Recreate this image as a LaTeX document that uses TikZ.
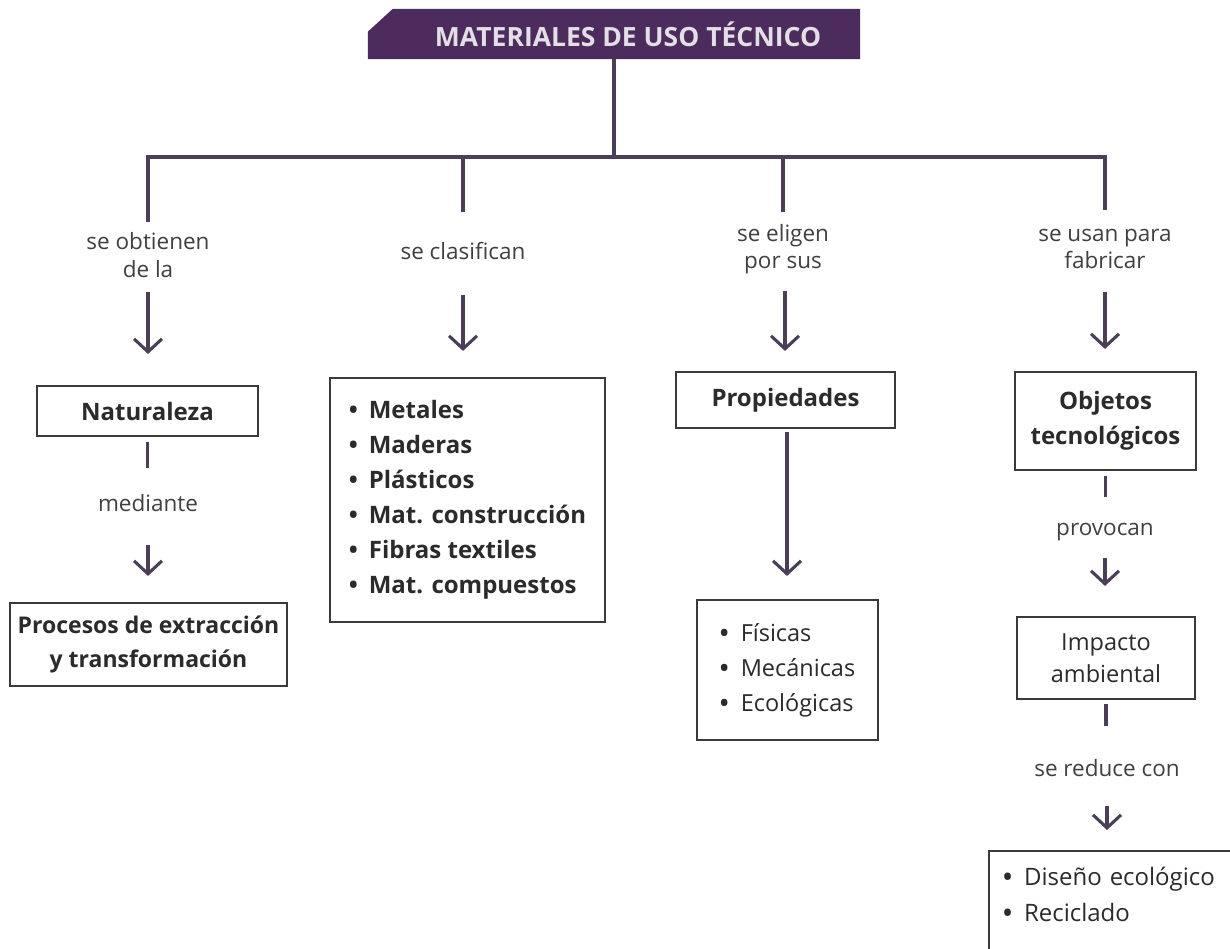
\documentclass[tikz,border=0pt]{standalone}
\usepackage{fontspec}
\setmainfont{Open Sans}
\usetikzlibrary{arrows.meta,backgrounds}
\definecolor{banner}{HTML}{4B2C5C}
\definecolor{connc}{HTML}{4A3F57}
\definecolor{boxc}{HTML}{3A3A3A}
\definecolor{txtc}{HTML}{2B2B2B}
\definecolor{lblc}{HTML}{404040}
\definecolor{titletxt}{HTML}{E4DEE6}
\newcommand{\itm}{\makebox[20pt][l]{\textbf{\textbullet}}}
\newcommand{\itmr}{\makebox[21pt][l]{\textbf{\textbullet}}}
\begin{document}
\begin{tikzpicture}[x=1pt,y=-1pt,
  conn/.style={draw=connc, line width=3.1pt},
  arr/.style={conn, -{Straight Barb[length=13pt,width=28pt]}},
  box/.style={draw=boxc, line width=2.1pt, fill=white, text=txtc, inner sep=0pt, align=center},
  bfont/.style={font=\fontsize{24}{35}\selectfont\bfseries},
  rfont/.style={font=\fontsize{23.5}{35}\selectfont},
  lbl/.style={text=lblc, font=\fontsize{22.5}{27.5}\selectfont, align=center, inner sep=0pt},
  titlebox/.style={inner sep=0pt, minimum width=492pt, minimum height=50pt, text=titletxt, font=\fontsize{26.5}{30}\selectfont\bfseries}
]
\useasboundingbox (0,0) rectangle (1230,949);
\clip (0,0) rectangle (1230,949);

% title
\node[titlebox] (title) at (614,34) {\hspace*{28pt}MATERIALES DE USO TÉCNICO};
\begin{scope}[on background layer]
\fill[white] (0,0) rectangle (1230,949);
\fill[banner] (title.south west) -- ([yshift=-23pt]title.north west) -- ([xshift=25pt]title.north west) -- (title.north east) -- (title.south east) -- cycle;
\end{scope}

% bus
\coordinate (bL) at (148,157);
\coordinate (bR) at (1105,157);
\coordinate (b2) at (463,157);
\coordinate (b3) at (783,157);
\coordinate (d1) at (148,222);
\coordinate (d2) at (463,212);
\coordinate (d3) at (783,212);
\coordinate (d4) at (1105,210);
\draw[conn] (title.south) -- (title.south |- bL);
\draw[conn, line join=miter] (d1) -- (bL) -- (bR) -- (d4);
\draw[conn] (b2) -- (d2);
\draw[conn] (b3) -- (d3);

% labels
\node[lbl] (l1) at (148,255) {se obtienen\\de la};
\node[lbl] (l2) at (463,251) {se clasifican};
\node[lbl] (l3) at (783,249) {se eligen\\por sus};
\node[lbl] (l4) at (1105,249) {se usan para\\fabricar};

% boxes
\node[box, bfont, minimum width=221pt, minimum height=50pt] (nat) at (147.5,411) {Naturaleza};
\node[box, font=\fontsize{23}{34}\selectfont\bfseries, minimum width=277pt, minimum height=83pt] (proc) at (148.5,644.5) {Procesos de extracción\\y transformación};
\node[box, bfont, align=left, minimum width=275pt, minimum height=244pt] (clas) at (467.5,500)
  {\itm Metales\\\itm Maderas\\\itm Plásticos\\\itm Mat. construcción\\\itm Fibras textiles\\\itm Mat. compuestos};
\node[box, bfont, minimum width=219pt, minimum height=56pt] (prop) at (785.5,400) {Propiedades};
\node[box, rfont, align=left, minimum width=181pt, minimum height=140pt] (fis) at (787.5,670)
  {\itmr Físicas\\\itmr Mecánicas\\\itmr Ecológicas};
\node[box, bfont, minimum width=181pt, minimum height=98pt] (obj) at (1105.5,421) {Objetos\\tecnológicos};
\node[box, font=\fontsize{23.5}{32}\selectfont, minimum width=178pt, minimum height=82pt] (imp) at (1106,658) {Impacto\\ambiental};
\node[box, font=\fontsize{24}{36}\selectfont, align=left, anchor=north west, text width=236pt, inner xsep=14pt, inner ysep=16pt, text depth=60pt] (dis) at (988,850)
  {\itmr Diseño ecológico\\\itmr Reciclado};

% middle labels
\node[lbl] (med) at (148,503) {mediante};
\node[lbl] (prv) at (1105,532) {provocan};
\node[lbl] (red) at (1107,768) {se reduce con};

% arrows from labels to boxes
\coordinate (s1) at (148,292);
\coordinate (s2) at (463,295);
\coordinate (s3) at (785,291);
\coordinate (s4) at (1105,292);
\coordinate (s5) at (148,545);
\coordinate (s7) at (1105,558);
\coordinate (s8) at (1107,806);
\draw[arr, shorten >=31pt] (s1) -- (s1 |- nat.north);
\draw[arr, shorten >=26pt] (s2) -- (s2 |- clas.north);
\draw[arr, shorten >=20pt] (s3) -- (s3 |- prop.north);
\draw[arr, shorten >=22pt] (s4) -- (s4 |- obj.north);
\draw[arr, shorten >=26pt] (s5) -- (s5 |- proc.north);
\draw[arr, shorten >=30pt] (s7) -- (s7 |- imp.north);
\draw[arr, shorten >=20pt] (s8) -- (s8 |- dis.north);
\draw[arr, shorten <=3pt, shorten >=23pt] (prop.south -| 787,0) -- (fis.north -| 787,0);

% short connectors below boxes
\draw[conn] (nat.south) ++(0,5) -- ++(0,26);
\draw[conn] (obj.south) ++(0,5) -- ++(0,21);
\draw[conn] (imp.south) ++(0,4) -- ++(0,22);
\end{tikzpicture}
\end{document}
